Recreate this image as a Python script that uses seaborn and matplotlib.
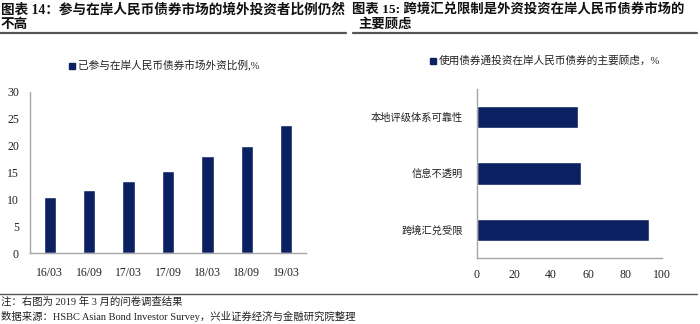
import matplotlib
matplotlib.use("Agg")
import matplotlib.pyplot as plt
from matplotlib.ticker import FixedLocator, NullFormatter
import seaborn as sns
import pandas as pd

sns.set_theme(style="white")
plt.rcParams["font.family"] = ["Liberation Serif", "Noto Sans CJK SC", "DejaVu Sans"]

# Left panel: share of foreign investors in the onshore RMB bond market
periods = ["16/03", "16/09", "17/03", "17/09", "18/03", "18/09", "19/03"]
share_pct = [10.5, 11.8, 13.5, 15.3, 18.0, 20.0, 23.8]
left_legend = "已参与在岸人民币债券市场外资比例,%"

# Right panel: main concerns when investing via Bond Connect
concerns = ["本地评级体系可靠性", "信息不透明", "跨境汇兑受限"]
concern_pct = [54.5, 56.0, 93.0]
right_legend = "使用债券通投资在岸人民币债券的主要顾虑，%"

title_left = ["图表 14：参与在岸人民币债券市场的境外投资者比例仍然", "不高"]
title_right = ["图表 15: 跨境汇兑限制是外资投资在岸人民币债券市场的", "主要顾虑"]
note_lines = ["注：右图为 2019 年 3 月的问卷调查结果",
              "数据来源：HSBC Asian Bond Investor Survey，兴业证券经济与金融研究院整理"]

NAVY = "#0B2161"
AXIS_GRAY = "#A6A6A6"
TEXT = "#222222"
CJK = ["Noto Sans CJK SC", "DejaVu Sans"]

W, H = 700, 324
fig = plt.figure(figsize=(W / 100, H / 100), dpi=100)
fig.patch.set_facecolor("white")


def px_axes(x0, y_top, x1, y_bot):
    return fig.add_axes([x0 / W, 1 - y_bot / H, (x1 - x0) / W, (y_bot - y_top) / H])


def style_axes(ax):
    for s in ["top", "right"]:
        ax.spines[s].set_visible(False)
    for s in ["left", "bottom"]:
        ax.spines[s].set_color(AXIS_GRAY)
        ax.spines[s].set_linewidth(1.0)
    ax.tick_params(which="both", direction="in", color=AXIS_GRAY, width=0.8,
                   labelcolor=TEXT)
    ax.set_xlabel("")
    ax.set_ylabel("")


# ---- left chart ----
df_left = pd.DataFrame({"period": periods, "share": share_pct})
ax1 = px_axes(30, 92, 306, 253)
sns.barplot(data=df_left, x="period", y="share", order=periods, color=NAVY,
            width=0.31, saturation=1, ax=ax1)
ax1.set_xlim(-0.5, len(periods) - 0.5)
ax1.set_ylim(0, 30)
ax1.set_yticks(range(0, 31, 5))
ax1.xaxis.set_minor_locator(FixedLocator([i + 0.5 for i in range(len(periods) - 1)]))
ax1.xaxis.set_minor_formatter(NullFormatter())
ax1.tick_params(axis="x", which="major", length=0, pad=10, labelsize=8.5)
ax1.tick_params(axis="x", which="minor", length=3)
ax1.tick_params(axis="y", which="major", length=3, pad=8, labelsize=8.5)
style_axes(ax1)

# ---- right chart ----
df_right = pd.DataFrame({"concern": concerns, "pct": concern_pct})
ax2 = px_axes(477, 89, 662, 258)
sns.barplot(data=df_right, y="concern", x="pct", order=concerns, color=NAVY,
            orient="h", width=0.4, saturation=1, ax=ax2)
ax2.set_xlim(0, 100)
ax2.set_ylim(len(concerns) - 0.5, -0.5)
ax2.set_xticks(range(0, 101, 20))
ax2.yaxis.set_minor_locator(FixedLocator([-0.5] + [i + 0.5 for i in range(len(concerns) - 1)]))
ax2.yaxis.set_minor_formatter(NullFormatter())
ax2.tick_params(axis="y", which="major", length=0, pad=10, labelsize=7.4)
ax2.tick_params(axis="y", which="minor", length=3)
ax2.tick_params(axis="x", which="major", length=3, pad=8, labelsize=8.5)
style_axes(ax2)
for lab in ax2.get_yticklabels():
    lab.set_family(CJK)

# ---- legends ----
for (sx, sy, label) in [(72, 66, left_legend), (433, 61, right_legend)]:
    fig.patches.append(plt.Rectangle(((sx - 3) / W, 1 - (sy + 3) / H), 6 / W, 6 / H,
                                     transform=fig.transFigure, color=NAVY))
    fig.text((sx + 6) / W, 1 - sy / H, label, fontsize=7.7, color=TEXT,
             ha="left", va="center", family=["Liberation Serif"] + CJK)

# ---- titles ----
fig.text(1 / W, 1 - 10 / H, title_left[0], fontsize=9.8, weight="bold",
         color="#111111", ha="left", va="center")
fig.text(1 / W, 1 - 24 / H, title_left[1], fontsize=9.8, weight="bold",
         color="#111111", ha="left", va="center")
fig.text(352 / W, 1 - 10 / H, title_right[0], fontsize=9.6, weight="bold",
         color="#111111", ha="left", va="center")
fig.text(358 / W, 1 - 24 / H, title_right[1], fontsize=9.6, weight="bold",
         color="#111111", ha="left", va="center")

# rules under the titles and above the notes
for (x0, x1) in [(0, 346), (353, 697)]:
    fig.add_artist(plt.Line2D([x0 / W, x1 / W], [1 - 33 / H, 1 - 33 / H],
                              color="#555555", linewidth=1.6))
fig.add_artist(plt.Line2D([0, 697 / W], [1 - 294 / H, 1 - 294 / H],
                          color="#555555", linewidth=1.0))

# ---- notes ----
fig.text(1 / W, 1 - 302 / H, note_lines[0], fontsize=7.5, color=TEXT,
         ha="left", va="center")
fig.text(1 / W, 1 - 316 / H, note_lines[1], fontsize=7.5, color=TEXT,
         ha="left", va="center")

fig.savefig("out.png", dpi=100, facecolor="white")
